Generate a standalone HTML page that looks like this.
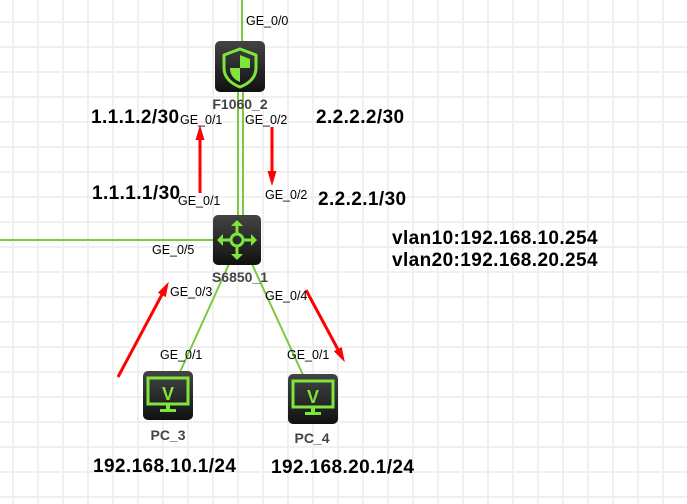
<!DOCTYPE html>
<html><head><meta charset="utf-8"><style>
body{margin:0;width:687px;height:504px;overflow:hidden;background:#fff;
background-image:linear-gradient(#f0f0f0 2px,transparent 2px),linear-gradient(90deg,#f0f0f0 2px,transparent 2px);
background-size:25px 25px;background-position:0 21px,12px 0;}
</style></head><body>
<svg width="687" height="504" style="position:absolute;left:0;top:0" font-family="Liberation Sans, sans-serif">
<defs>
<linearGradient id="g" x1="0" y1="0" x2="0" y2="1"><stop offset="0" stop-color="#444"/><stop offset="1" stop-color="#111"/></linearGradient>
<marker id="a" markerWidth="5" markerHeight="3" refX="3" refY="1.5" orient="auto" markerUnits="strokeWidth"><path d="M0,0 L5,1.5 L0,3 Z" fill="#f00"/></marker>
</defs>
<g stroke="#7dc83c" stroke-width="2" fill="none">
<line x1="242" y1="0" x2="242" y2="42"/>
<line x1="238" y1="92" x2="238" y2="216"/>
<line x1="243" y1="92" x2="243" y2="216"/>
<line x1="0" y1="240" x2="214" y2="240"/>
<line x1="229" y1="264" x2="180" y2="372"/>
<line x1="252" y1="264" x2="303" y2="375"/>
</g>
<rect x="215" y="41" width="50" height="51" rx="5" fill="url(#g)"/>
<path d="M240,49 L256,55 L256,68 C256,78 248,84 240,87 C232,84 224,78 224,68 L224,55 Z" fill="none" stroke="#7ee53a" stroke-width="3"/>
<path d="M240,55 L250,59 L250,68 L240,68 Z M240,68 L230,68 C230,76 235,80 240,82 Z" fill="#7ee53a"/>
<rect x="213" y="215" width="48" height="50" rx="5" fill="url(#g)"/>
<g stroke="#7ee53a" stroke-width="3" fill="none">
<circle cx="237" cy="240" r="6"/>
<line x1="237" y1="222" x2="237" y2="234"/><line x1="237" y1="246" x2="237" y2="258"/>
<line x1="219" y1="240" x2="231" y2="240"/><line x1="243" y1="240" x2="255" y2="240"/>
</g>
<g fill="#7ee53a"><path d="M237,220 l-6,6 h12z"/><path d="M237,260 l-6,-6 h12z"/><path d="M217,240 l6,-6 v12z"/><path d="M257,240 l-6,-6 v12z"/></g>
<g>
<rect x="143" y="371" width="50" height="49" rx="5" fill="url(#g)"/>
<rect x="148" y="378" width="40" height="26" fill="none" stroke="#7ee53a" stroke-width="3"/>
<text x="168" y="400" font-size="18" font-weight="bold" fill="#7ee53a" text-anchor="middle">V</text>
<rect x="166" y="405" width="4" height="4" fill="#7ee53a"/><rect x="160" y="409" width="16" height="3" fill="#7ee53a"/>
</g>
<g>
<rect x="288" y="374" width="50" height="50" rx="5" fill="url(#g)"/>
<rect x="293" y="381" width="40" height="26" fill="none" stroke="#7ee53a" stroke-width="3"/>
<text x="313" y="403" font-size="18" font-weight="bold" fill="#7ee53a" text-anchor="middle">V</text>
<rect x="311" y="408" width="4" height="4" fill="#7ee53a"/><rect x="305" y="412" width="16" height="3" fill="#7ee53a"/>
</g>
<g stroke="#f00" stroke-width="3" marker-end="url(#a)">
<line x1="200" y1="193" x2="200" y2="131"/>
<line x1="272" y1="127" x2="272" y2="180"/>
<line x1="118" y1="377" x2="166" y2="287"/>
<line x1="306" y1="290" x2="342" y2="357"/>
</g>
<g font-size="12.5" fill="#000">
<text x="246" y="25">GE_0/0</text>
<text x="180" y="124">GE_0/1</text>
<text x="245" y="124">GE_0/2</text>
<text x="178" y="205">GE_0/1</text>
<text x="265" y="199">GE_0/2</text>
<text x="152" y="254">GE_0/5</text>
<text x="170" y="296">GE_0/3</text>
<text x="265" y="300">GE_0/4</text>
<text x="160" y="359">GE_0/1</text>
<text x="287" y="359">GE_0/1</text>
</g>
<g font-size="14" font-weight="bold" fill="#444" text-anchor="middle">
<text x="240" y="109">F1060_2</text>
<text x="240" y="282">S6850_1</text>
<text x="168" y="440">PC_3</text>
<text x="312" y="443">PC_4</text>
</g>
<g font-size="19" font-weight="bold" fill="#000" letter-spacing="0.4">
<text x="91" y="123">1.1.1.2/30</text>
<text x="316" y="123">2.2.2.2/30</text>
<text x="92" y="199">1.1.1.1/30</text>
<text x="318" y="205">2.2.2.1/30</text>
<text x="392" y="244">vlan10:192.168.10.254</text>
<text x="392" y="266">vlan20:192.168.20.254</text>
<text x="93" y="472">192.168.10.1/24</text>
<text x="271" y="473">192.168.20.1/24</text>
</g>
</svg>
</body></html>
